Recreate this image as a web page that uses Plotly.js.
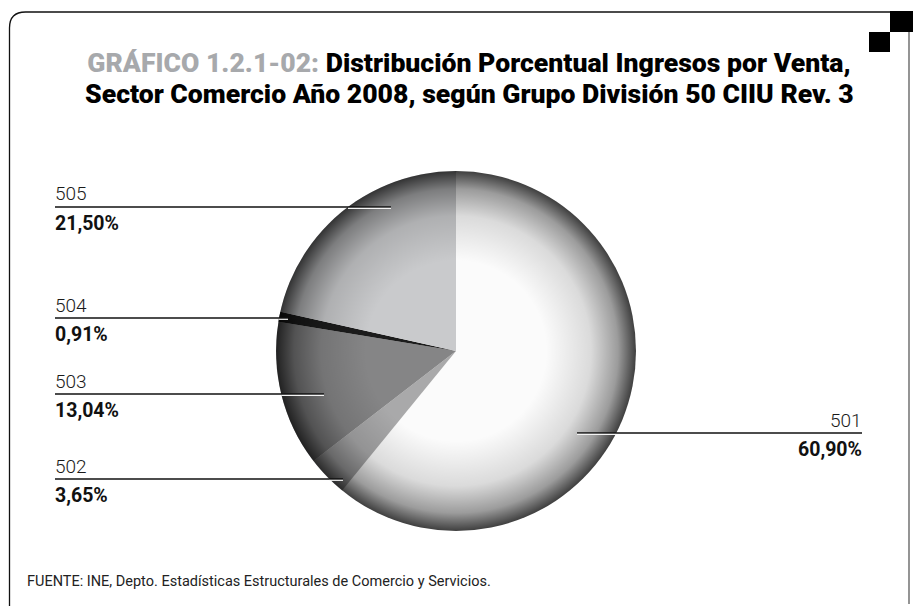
<!DOCTYPE html>
<html>
<head>
<meta charset="utf-8">
<script src="https://cdn.plot.ly/plotly-3.0.1.min.js"></script>
<style>
  html, body { margin: 0; padding: 0; background: #ffffff; }
  #chart { width: 913px; height: 608px; }
</style>
</head>
<body>
<div id="chart"></div>
<script>
// ---- data ----
const categories = ['501', '502', '503', '504', '505'];
const shares = [60.90, 3.65, 13.04, 0.91, 21.50];
const sliceColors = ['#fbfbfb', '#a9a9aa', '#858586', '#1c1c1c', '#c9cacc'];
const titleLead = 'GRÁFICO 1.2.1-02:';
const titleLine1 = 'Distribución Porcentual Ingresos por Venta,';
const titleLine2 = 'Sector Comercio Año 2008, según Grupo División 50 CIIU Rev. 3';
const sourceNote = 'FUENTE: INE, Depto. Estadísticas Estructurales de Comercio y Servicios.';

// ---- layout helpers (pixels -> paper) ----
const W = 913, H = 608;
const px = x => x / W;
const py = y => 1 - y / H;
const FONT = 'Roboto, "Liberation Sans", sans-serif';

const CX = 456, CY = 351, R = 180;

// label placement (layout): line y, line start x, line end x, side
const labelPos = {
  '501': {y: 433, x0: 577, x1: 862, side: 'right'},
  '502': {y: 479, x0: 55, x1: 343, side: 'left'},
  '503': {y: 394, x0: 55, x1: 324, side: 'left'},
  '504': {y: 318, x0: 55, x1: 288, side: 'left'},
  '505': {y: 207, x0: 55, x1: 391, side: 'left'}
};

const fmtPct = v => v.toFixed(2).replace('.', ',') + '%';

const shapes = [];
const annotations = [];

categories.forEach((c, i) => {
  const p = labelPos[c];
  shapes.push({type: 'line', xref: 'paper', yref: 'paper',
    x0: px(p.x0), x1: px(p.x1), y0: py(p.y), y1: py(p.y),
    line: {color: '#111111', width: 1.3}, layer: 'above'});
  const dy = p.y - CY;
  const half = Math.sqrt(Math.max(0, R * R - dy * dy));
  let a, b;
  if (p.side === 'left') { a = CX - half; b = p.x1; } else { a = p.x0; b = CX + half; }
  if (b > a) {
    shapes.push({type: 'line', xref: 'paper', yref: 'paper',
      x0: px(a), x1: px(b), y0: py(p.y + 1.3), y1: py(p.y + 1.3),
      line: {color: '#f4f4f4', width: 1.2}, layer: 'above'});
  }
  const tx = p.side === 'left' ? p.x0 - 2 : p.x1 + 2;
  const anchor = p.side === 'left' ? 'left' : 'right';
  annotations.push({xref: 'paper', yref: 'paper', x: px(tx), y: py(p.y - 13),
    xanchor: anchor, yanchor: 'middle', showarrow: false, text: c,
    font: {family: FONT, weight: 300, size: 19, color: '#1a1a1a'}});
  annotations.push({xref: 'paper', yref: 'paper', x: px(tx), y: py(p.y + 16),
    xanchor: anchor, yanchor: 'middle', showarrow: false, text: fmtPct(shares[i]),
    font: {family: FONT, weight: 700, size: 19.5, color: '#111111'}});
});

// second title line
annotations.push({xref: 'paper', yref: 'paper', x: px(469), y: py(94),
  xanchor: 'center', yanchor: 'middle', showarrow: false,
  text: titleLine2,
  font: {family: FONT, weight: 900, size: 26.6, color: '#000000'}});

// source note
annotations.push({xref: 'paper', yref: 'paper', x: px(25), y: py(581),
  xanchor: 'left', yanchor: 'middle', showarrow: false, text: sourceNote,
  font: {family: FONT, size: 14.5, color: '#222222'}});

// frame
const framePath = 'M ' + px(9.5) + ',' + py(606) + ' L ' + px(9.5) + ',' + py(28) +
  ' Q ' + px(9.5) + ',' + py(12) + ' ' + px(25.5) + ',' + py(12) +
  ' L ' + px(890) + ',' + py(12);
shapes.push({type: 'path', xref: 'paper', yref: 'paper', path: framePath,
  line: {color: '#111111', width: 1.3}});
shapes.push({type: 'line', xref: 'paper', yref: 'paper', x0: px(909), x1: px(909), y0: py(32), y1: py(604),
  line: {color: '#7a7a7a', width: 1.6}});
shapes.push({type: 'rect', xref: 'paper', yref: 'paper', x0: px(890), x1: px(913), y0: py(11), y1: py(32),
  fillcolor: '#000000', line: {width: 0}});
shapes.push({type: 'rect', xref: 'paper', yref: 'paper', x0: px(869), x1: px(890), y0: py(32), y1: py(52),
  fillcolor: '#000000', line: {width: 0}});

// spherical shading overlay
const svg = "<svg xmlns='http://www.w3.org/2000/svg' width='360' height='360'>" +
  "<defs><radialGradient id='g' cx='0.5' cy='0.5' r='0.5'>" +
  "<stop offset='0' stop-color='#000' stop-opacity='0'/>" +
  "<stop offset='0.5' stop-color='#000' stop-opacity='0.0'/>" +
  "<stop offset='0.75' stop-color='#000' stop-opacity='0.13'/>" +
  "<stop offset='0.9' stop-color='#000' stop-opacity='0.38'/>" +
  "<stop offset='1' stop-color='#000' stop-opacity='0.75'/>" +
  "</radialGradient></defs><circle cx='180' cy='180' r='180' fill='url(#g)'/></svg>";
const shade = 'data:image/svg+xml;charset=utf-8,' + encodeURIComponent(svg);

const data = [{
  type: 'pie',
  labels: categories,
  values: shares,
  sort: false,
  direction: 'clockwise',
  rotation: 0,
  textinfo: 'none',
  hoverinfo: 'label+percent',
  marker: {colors: sliceColors, line: {width: 0}},
  domain: {x: [px(CX - R), px(CX + R)], y: [py(CY + R), py(CY - R)]},
  showlegend: false
}];

const layout = {
  width: W, height: H,
  margin: {l: 0, r: 0, t: 0, b: 0},
  paper_bgcolor: '#ffffff',
  plot_bgcolor: '#ffffff',
  showlegend: false,
  title: {
    text: '<span style="color:#a7a9ac">' + titleLead + '</span> ' + titleLine1,
    x: px(469), xanchor: 'center', xref: 'paper',
    y: py(63), yanchor: 'middle', yref: 'container',
    font: {family: FONT, weight: 900, size: 26.6, color: '#000000'}
  },
  images: [{source: shade, xref: 'paper', yref: 'paper',
    x: px(CX - R), y: py(CY - R), sizex: px(2 * R), sizey: 2 * R / H,
    xanchor: 'left', yanchor: 'top', sizing: 'stretch', layer: 'above'}],
  shapes: shapes,
  annotations: annotations
};

Plotly.newPlot('chart', data, layout, {displayModeBar: false, staticPlot: true});
</script>
</body>
</html>
